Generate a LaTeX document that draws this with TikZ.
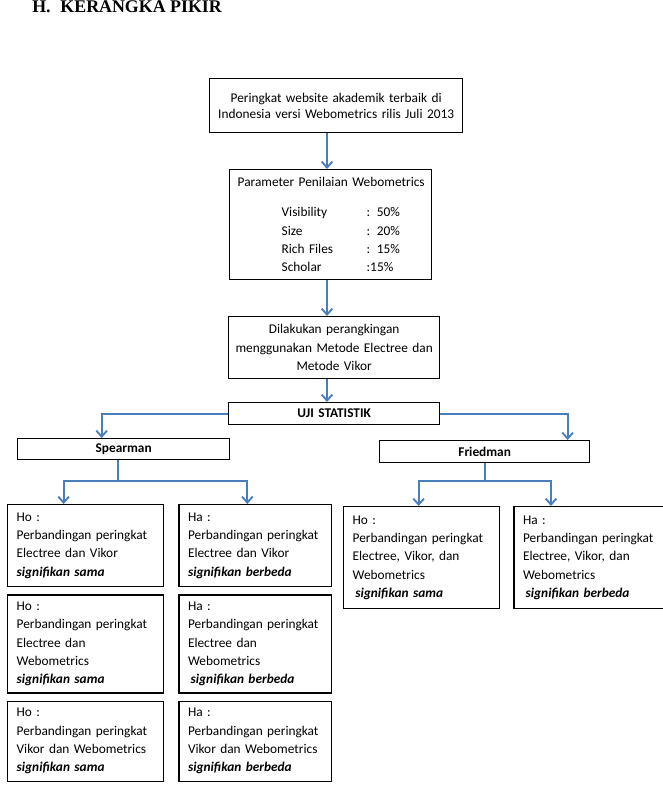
\documentclass[tikz,border=0pt]{standalone}
\usepackage{fontspec}
\setmainfont{Carlito}
\newfontfamily\titlefont{Liberation Serif}
\usepackage{xcolor}
\usetikzlibrary{arrows.meta,positioning,calc}
\definecolor{Ink}{HTML}{000000}
\definecolor{Link}{HTML}{4A7EBB}
\newcommand{\sig}[1]{\textbf{\textit{signifikan #1}}}
\newcommand{\pararow}[2]{\hspace*{35pt}\makebox[63.75pt][l]{#1}#2}
\tikzset{
  box/.style={draw=Ink,line width=1pt,anchor=north west,align=center,inner xsep=4pt,inner ysep=2pt,font=\fontsize{10pt}{13.75pt}\selectfont,text=Ink},
  head/.style={box,font=\fontsize{10pt}{12pt}\selectfont\bfseries},
  hyp/.style={draw=Ink,line width=1pt,anchor=north west,align=left,inner xsep=6.75pt,text width=103.5pt,font=\fontsize{10pt}{13.75pt}\selectfont,text=Ink},
  arr/.style={-{Straight Barb[length=4.5pt,width=8pt]},draw=Link,line width=1.4pt},
  conn/.style={draw=Link,line width=1.4pt}
}

\begin{document}
\begin{tikzpicture}[x=0.75pt,y=-0.75pt]
  \useasboundingbox (0,0) rectangle (663,799);
  \node[anchor=base west,inner sep=0pt,font={\titlefont\bfseries\fontsize{13.4pt}{16pt}\selectfont}] (title) at (32,12.5) {H.\hspace{0.55em}KERANGKA PIKIR};

  \node[box,font=\fontsize{10pt}{11.8pt}\selectfont,text width=181.75pt,minimum height=40.5pt] (src) at (209,78) {Peringkat website akademik terbaik di\\Indonesia versi Webometrics rilis Juli 2013};
  \node[box,align=left,text width=143.5pt,minimum height=82.5pt] (param) at (229,169) {\hspace*{2pt}\mbox{Parameter Penilaian Webometrics}\\[8.75pt]
    \pararow{Visibility}{: 50\%}\\
    \pararow{Size}{: 20\%}\\
    \pararow{Rich Files}{: 15\%}\\
    \pararow{Scholar}{:15\%}};
  \node[box,text width=150.25pt,minimum height=46.5pt] (rank) at (228,316) {Dilakukan perangkingan\\menggunakan Metode Electree dan\\Metode Vikor};
  \node[head,text width=150.25pt,minimum height=16.5pt] (uji) at (228,402) {UJI STATISTIK};
  \node[head,text width=151pt,minimum height=15.75pt] (spearman) at (17,438) {Spearman};
  \node[head,text width=149.5pt,minimum height=16.5pt] (friedman) at (379,440) {Friedman};

  \node[hyp,minimum height=61.5pt] (ho1) at (7,504) {Ho :\\Perbandingan peringkat\\Electree dan Vikor\\\sig{sama}};
  \node[hyp,text width=101pt,minimum height=61.5pt,right=10.5pt of ho1] (ha1) {Ha :\\Perbandingan peringkat\\Electree dan Vikor\\\sig{berbeda}};
  \node[hyp,minimum height=73.5pt,below=5.25pt of ho1] (ho2) {Ho :\\Perbandingan peringkat\\Electree dan\\Webometrics\\\sig{sama}};
  \node[hyp,text width=101pt,minimum height=73.5pt,right=10.5pt of ho2] (ha2) {Ha :\\Perbandingan peringkat\\Electree dan\\Webometrics\\\hspace*{2pt}\sig{berbeda}};
  \node[hyp,minimum height=60pt,below=5.25pt of ho2] (ho3) {Ho :\\Perbandingan peringkat\\Vikor dan Webometrics\\\sig{sama}};
  \node[hyp,text width=101pt,minimum height=60pt,right=10.5pt of ho3] (ha3) {Ha :\\Perbandingan peringkat\\Vikor dan Webometrics\\\sig{berbeda}};
  \node[hyp,minimum height=76.5pt] (ho4) at (343,506) {Ho :\\Perbandingan peringkat\\Electree, Vikor, dan\\Webometrics\\\hspace*{2pt}\sig{sama}};
  \node[hyp,minimum height=76.5pt,right=9.75pt of ho4] (ha4) {Ha :\\Perbandingan peringkat\\Electree, Vikor, dan\\Webometrics\\\hspace*{2pt}\sig{berbeda}};

  \coordinate (spine) at (327,0);
  \draw[arr] (src.south -| spine) -- (param.north -| spine);
  \draw[arr] (param.south -| spine) -- (rank.north -| spine);
  \draw[arr] (rank.south -| spine) -- (uji.north -| spine);
  \draw[arr] (uji.west) -| ($(spearman.north)+(-22,0)$);
  \draw[arr] (uji.east) -| ($(friedman.north)+(83,0)$);

  \draw[conn] ($(spearman.south)+(-6,0)$) -- ++(0,21) coordinate (sfork);
  \draw[arr] (sfork) -| ($(ho1.north)+(-22,0)$);
  \draw[arr] (sfork) -| ($(ha1.north)+(-8,0)$);
  \draw[conn] (friedman.south) -- ++(0,18) coordinate (ffork);
  \draw[arr] (ffork) -| ($(ho4.north)+(-3,0)$);
  \draw[arr] (ffork) -| ($(ha4.north)+(-41,0)$);
\end{tikzpicture}
\end{document}
